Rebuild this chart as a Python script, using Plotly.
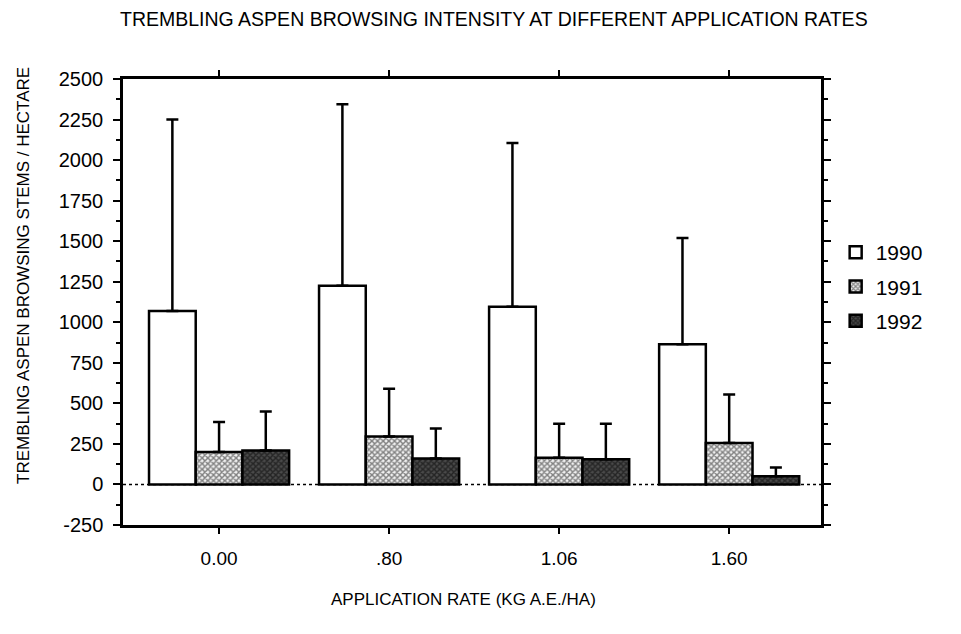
import plotly.graph_objects as go

categories = ["0.00", ".80", "1.06", "1.60"]
years = ["1990", "1991", "1992"]
mean_1990 = [1070, 1225, 1095, 865]
err_1990 = [1180, 1120, 1010, 655]
mean_1991 = [200, 295, 165, 255]
err_1991 = [185, 295, 210, 300]
mean_1992 = [210, 160, 155, 50]
err_1992 = [240, 185, 220, 55]
y_ticks = [-250, 0, 250, 500, 750, 1000, 1250, 1500, 1750, 2000, 2250, 2500]
y_tick_labels = ["-250", "0", "250", "500", "750", "1000", "1250", "1500", "1750", "2000", "2250", "2500"]

FONT = "Liberation Sans, Arial, sans-serif"

styles = [
    dict(color="white", pattern=None),
    dict(color="#888888", pattern=dict(shape="x", fgcolor="#111111", bgcolor="#f0f0f0", size=4, solidity=0.6)),
    dict(color="#222222", pattern=dict(shape="x", fgcolor="#000000", bgcolor="#4a4a4a", size=4, solidity=0.6)),
]

fig = go.Figure()
for i, (yr, means, errs) in enumerate(zip(years, [mean_1990, mean_1991, mean_1992],
                                          [err_1990, err_1991, err_1992])):
    marker = dict(color=styles[i]["color"], line=dict(color="black", width=2.5))
    if styles[i]["pattern"] is not None:
        marker["pattern"] = styles[i]["pattern"]
    fig.add_trace(go.Bar(
        x=categories, y=means, name=yr, legendgroup=yr,
        marker=marker,
        error_y=dict(type="data", array=errs, arrayminus=[0] * len(errs), symmetric=False,
                     color="black", thickness=2.5, width=6),
    ))

fig.add_shape(type="line", xref="paper", yref="y", x0=0, x1=1, y0=0, y1=0,
              line=dict(color="black", width=1.5, dash="dot"), layer="below")

# page has a small body margin, so figure is a little smaller than the window
fig.update_layout(
    width=953, height=626,
    margin=dict(l=115, r=140, t=71, b=109),
    paper_bgcolor="white", plot_bgcolor="white",
    barmode="group", bargap=0.176, bargroupgap=0,
    font=dict(family=FONT, size=16, color="black"),
    showlegend=True,
    legend=dict(x=1.021, y=0.657, xanchor="left", yanchor="top",
                font=dict(size=21), tracegroupgap=4, bgcolor="rgba(0,0,0,0)"),
    xaxis=dict(range=[-0.565, 3.54], showline=True, linewidth=2.5, linecolor="black",
               mirror="ticks", ticks="outside", ticklen=6, tickwidth=2, tickcolor="black",
               showgrid=False, tickfont=dict(size=19), ticklabelstandoff=8),
    yaxis=dict(range=[-250, 2500], tickvals=y_ticks, ticktext=y_tick_labels,
               showline=True, linewidth=2.5, linecolor="black",
               mirror="ticks", ticks="outside", ticklen=7, tickwidth=2, tickcolor="black",
               showgrid=False, zeroline=False, tickfont=dict(size=20), ticklabelstandoff=6,
               minor=dict(dtick=125, tick0=0, ticks="outside", ticklen=4, tickwidth=2,
                          tickcolor="black", showgrid=False)),
    annotations=[
        dict(text="TREMBLING ASPEN BROWSING INTENSITY AT DIFFERENT APPLICATION RATES",
             xref="paper", yref="paper", x=(493 - 122) / 698, y=(524 - 18) / 446,
             xanchor="center", yanchor="middle", showarrow=False, font=dict(size=19.5)),
        dict(text="TREMBLING ASPEN BROWSING STEMS / HECTARE", textangle=-90,
             xref="paper", yref="paper", x=(22 - 122) / 698, y=(524 - 275) / 446,
             xanchor="center", yanchor="middle", showarrow=False, font=dict(size=17)),
        dict(text="APPLICATION RATE (KG A.E./HA)",
             xref="paper", yref="paper", x=(462 - 122) / 698, y=(524 - 598) / 446,
             xanchor="center", yanchor="middle", showarrow=False, font=dict(size=17)),
    ],
)

fig.write_html("out.html")
